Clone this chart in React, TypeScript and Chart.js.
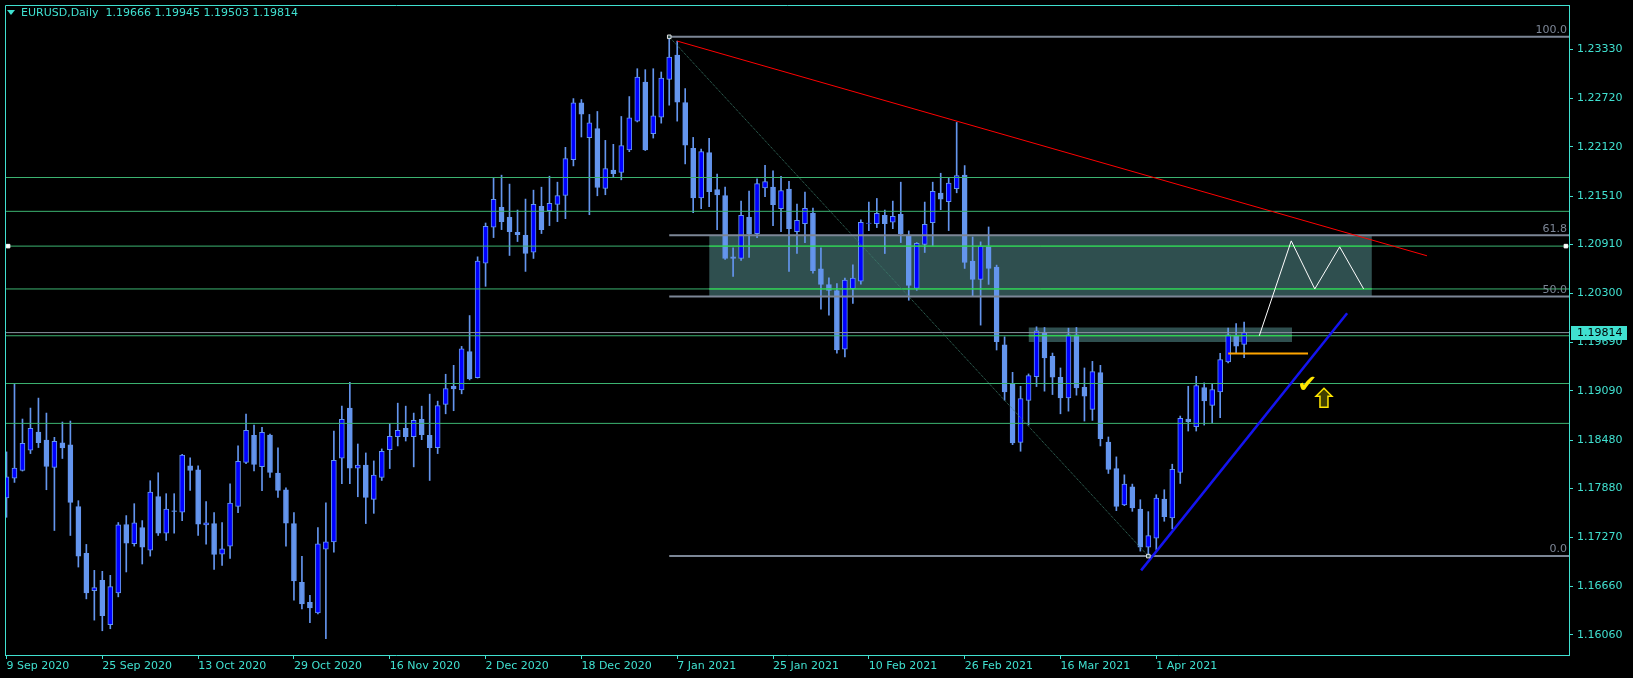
import React, { useEffect, useRef } from 'react';
import { Chart, registerables } from 'chart.js';

Chart.register(...registerables);

// ---- Daily candles, EURUSD (index 0 = 9 Sep 2020) ----
const opens = [
  1.17760, 1.18008, 1.18102, 1.18354, 1.18580, 1.18481, 1.18139, 1.18444, 1.18420, 1.17653,
  1.17072, 1.16611, 1.16739, 1.16187, 1.16582, 1.17431, 1.17192, 1.17394, 1.17114, 1.17777,
  1.17324, 1.17600, 1.17583, 1.18160, 1.18111, 1.17427, 1.17443, 1.17064, 1.17162, 1.17657,
  1.18201, 1.18538, 1.18151, 1.18543, 1.18069, 1.17863, 1.17443, 1.16713, 1.16466, 1.16334,
  1.17125, 1.17216, 1.18254, 1.18876, 1.18131, 1.18168, 1.17743, 1.18015, 1.18361, 1.18522,
  1.18625, 1.18522, 1.18736, 1.18539, 1.18386, 1.18922, 1.19148, 1.19103, 1.19577, 1.19256,
  1.20677, 1.21122, 1.21369, 1.21246, 1.21060, 1.21023, 1.20813, 1.21381, 1.21328, 1.21406,
  1.21517, 1.21962, 1.22667, 1.22234, 1.22346, 1.21604, 1.21831, 1.21802, 1.22082, 1.22440,
  1.22926, 1.22284, 1.22490, 1.22959, 1.23260, 1.22671, 1.22102, 1.21488, 1.22049, 1.21591,
  1.21517, 1.20755, 1.20734, 1.21245, 1.21043, 1.21612, 1.21620, 1.21352, 1.21596, 1.21068,
  1.21167, 1.21299, 1.20607, 1.20409, 1.20335, 1.19610, 1.20360, 1.20454, 1.21171, 1.21167,
  1.21270, 1.21184, 1.21283, 1.21015, 1.20364, 1.20908, 1.21180, 1.21546, 1.21439, 1.21600,
  1.21769, 1.20702, 1.20475, 1.20879, 1.20628, 1.19663, 1.19173, 1.18452, 1.18971, 1.19268,
  1.19808, 1.19519, 1.19260, 1.19004, 1.19787, 1.19136, 1.18860, 1.19317, 1.18456, 1.18127,
  1.17673, 1.17900, 1.17624, 1.17150, 1.17261, 1.17748, 1.17513, 1.18077, 1.18741, 1.18646,
  1.19132, 1.18909, 1.19078, 1.19449, 1.19775, 1.19666,
];
const highs = [
  1.18333, 1.19178, 1.18741, 1.18877, 1.19001, 1.18815, 1.18514, 1.18704, 1.18716, 1.17727,
  1.17184, 1.16862, 1.16850, 1.16800, 1.17456, 1.17542, 1.17690, 1.17480, 1.17975, 1.18074,
  1.17814, 1.17814, 1.18304, 1.18259, 1.18160, 1.17715, 1.17579, 1.17455, 1.17937, 1.18407,
  1.18802, 1.18666, 1.18637, 1.18555, 1.18382, 1.17888, 1.17579, 1.17035, 1.16553, 1.17393,
  1.17702, 1.18592, 1.18901, 1.19198, 1.18431, 1.18320, 1.18221, 1.18370, 1.18683, 1.18938,
  1.18901, 1.18815, 1.18901, 1.19050, 1.18963, 1.19297, 1.19408, 1.19643, 1.20026, 1.20755,
  1.21175, 1.21740, 1.21769, 1.21658, 1.21336, 1.21472, 1.21583, 1.21620, 1.21756, 1.21682,
  1.22115, 1.22720, 1.22708, 1.22523, 1.22560, 1.22201, 1.22152, 1.22498, 1.22745, 1.23091,
  1.23079, 1.23091, 1.23050, 1.23487, 1.23433, 1.22844, 1.22238, 1.22094, 1.22226, 1.21781,
  1.21620, 1.20866, 1.21447, 1.21571, 1.21723, 1.21892, 1.21822, 1.21756, 1.21694, 1.21410,
  1.21558, 1.21361, 1.20866, 1.20495, 1.20422, 1.20492, 1.20656, 1.21213, 1.21435, 1.21480,
  1.21336, 1.21447, 1.21682, 1.21077, 1.20932, 1.21435, 1.21682, 1.21793, 1.21732, 1.22424,
  1.21888, 1.21002, 1.20941, 1.21126, 1.20652, 1.19762, 1.19321, 1.19148, 1.19301, 1.19886,
  1.19878, 1.19560, 1.19375, 1.19869, 1.19878, 1.19375, 1.19457, 1.19408, 1.18518, 1.18271,
  1.18048, 1.17933, 1.17739, 1.17591, 1.17801, 1.17863, 1.18180, 1.18778, 1.19148, 1.19272,
  1.19190, 1.19177, 1.19556, 1.19869, 1.19927, 1.19945,
];
const lows = [
  1.17521, 1.17954, 1.18095, 1.18312, 1.18387, 1.17863, 1.17357, 1.18251, 1.17295, 1.16903,
  1.16508, 1.16244, 1.16112, 1.16137, 1.16533, 1.16842, 1.17163, 1.16941, 1.17039, 1.17295,
  1.17233, 1.17324, 1.17480, 1.17855, 1.17295, 1.17188, 1.16874, 1.16923, 1.17010, 1.17579,
  1.18188, 1.18098, 1.17850, 1.18015, 1.17768, 1.17162, 1.16491, 1.16384, 1.16211, 1.16322,
  1.16013, 1.17088, 1.17937, 1.17937, 1.17776, 1.17443, 1.17570, 1.17978, 1.18126, 1.18407,
  1.18468, 1.18147, 1.18485, 1.17978, 1.18312, 1.18806, 1.18844, 1.19054, 1.19227, 1.19250,
  1.20389, 1.20994, 1.21093, 1.20772, 1.20945, 1.20574, 1.20735, 1.21044, 1.21143, 1.21192,
  1.21229, 1.21884, 1.22243, 1.21278, 1.21513, 1.21526, 1.21740, 1.21711, 1.22061, 1.22430,
  1.22075, 1.22230, 1.22415, 1.22638, 1.22440, 1.21909, 1.21303, 1.21352, 1.21377, 1.21093,
  1.20722, 1.20512, 1.20710, 1.20747, 1.20994, 1.21501, 1.21142, 1.21068, 1.20574, 1.20796,
  1.20932, 1.20553, 1.20104, 1.20030, 1.19560, 1.19511, 1.20178, 1.20417, 1.21081, 1.21118,
  1.20796, 1.21105, 1.20932, 1.20216, 1.20339, 1.20809, 1.20891, 1.21340, 1.21081, 1.21550,
  1.20611, 1.20273, 1.19907, 1.20413, 1.19598, 1.18975, 1.18423, 1.18341, 1.18666, 1.19144,
  1.19087, 1.19045, 1.18806, 1.18839, 1.19037, 1.18716, 1.18724, 1.18407, 1.18065, 1.17603,
  1.17665, 1.17595, 1.17101, 1.17039, 1.17117, 1.17472, 1.17377, 1.17941, 1.18592, 1.18592,
  1.18666, 1.18691, 1.18757, 1.19437, 1.19560, 1.19503,
];
const closes = [
  1.18024, 1.18131, 1.18440, 1.18626, 1.18448, 1.18152, 1.18465, 1.18383, 1.17707, 1.17039,
  1.16582, 1.16648, 1.16298, 1.16660, 1.17427, 1.17200, 1.17451, 1.17151, 1.17835, 1.17324,
  1.17624, 1.17595, 1.18292, 1.18102, 1.17435, 1.17451, 1.17059, 1.17129, 1.17698, 1.18217,
  1.18600, 1.18176, 1.18576, 1.18077, 1.17855, 1.17447, 1.16730, 1.16446, 1.16396, 1.17191,
  1.17216, 1.18229, 1.18736, 1.18131, 1.18168, 1.17768, 1.18044, 1.18341, 1.18526, 1.18600,
  1.18522, 1.18724, 1.18547, 1.18386, 1.18909, 1.19120, 1.19115, 1.19614, 1.19239, 1.20702,
  1.21134, 1.21468, 1.21192, 1.21068, 1.21031, 1.20796, 1.21406, 1.21093, 1.21419, 1.21517,
  1.21975, 1.22667, 1.22527, 1.22420, 1.21616, 1.21851, 1.21789, 1.22135, 1.22481, 1.22988,
  1.22082, 1.22506, 1.22976, 1.23235, 1.22675, 1.22143, 1.21488, 1.22061, 1.21563, 1.21525,
  1.20734, 1.20734, 1.21270, 1.21035, 1.21666, 1.21690, 1.21402, 1.21579, 1.21105, 1.21208,
  1.21357, 1.20582, 1.20413, 1.20339, 1.19598, 1.20467, 1.20492, 1.21184, 1.21175, 1.21295,
  1.21167, 1.21258, 1.21040, 1.20401, 1.20924, 1.21159, 1.21567, 1.21472, 1.21670, 1.21765,
  1.20685, 1.20475, 1.20887, 1.20611, 1.19701, 1.19078, 1.18444, 1.18996, 1.19280, 1.19836,
  1.19499, 1.19260, 1.19004, 1.19787, 1.19128, 1.19025, 1.19330, 1.18497, 1.18114, 1.17657,
  1.17933, 1.17636, 1.17150, 1.17294, 1.17760, 1.17529, 1.18118, 1.18749, 1.18708, 1.19157,
  1.18967, 1.19107, 1.19478, 1.19787, 1.19647, 1.19814,
];

// ---- axes ----
const dateTickIndex = [0, 12, 24, 36, 48, 60, 72, 84, 96, 108, 120, 132, 144];
const dateTickLabels = [
  '9 Sep 2020', '25 Sep 2020', '13 Oct 2020', '29 Oct 2020', '16 Nov 2020', '2 Dec 2020',
  '18 Dec 2020', '7 Jan 2021', '25 Jan 2021', '10 Feb 2021', '26 Feb 2021', '16 Mar 2021', '1 Apr 2021',
];
const priceTicks = [
  1.23330, 1.22720, 1.22120, 1.21510, 1.20910, 1.20300, 1.19690,
  1.19090, 1.18480, 1.17880, 1.17270, 1.16660, 1.16060,
];
const xRange = [-0.1875, 195.6875];
const yRange = [1.15811, 1.23882];

// ---- drawn objects ----
const levelLines = [1.21740, 1.21320, 1.20888, 1.20356, 1.19775, 1.19182, 1.18687];
const selectedLevel = 1.20888;
const fibLevels = [1.23487, 1.21024, 1.20263, 1.17039];
const fibLabels = ['100.0', '61.8', '50.0', '0.0'];
const fibAnchorX = [83, 143];
const zoneBigX = [88, 171];
const zoneBigY = [1.21024, 1.20263];
const zoneBigLevels = [1.20888, 1.20356];
const zoneSmallX = [128, 161];
const zoneSmallY = [1.19878, 1.19696];
const zoneSmallLevels = [1.19775];
const redLineX = [84, 177.9];
const redLineY = [1.23434, 1.20768];
const blueLineX = [142.1, 167.9];
const blueLineY = [1.16862, 1.20054];
const pathX = [156.9, 160.9, 163.85, 166.97, 169.97];
const pathY = [1.19775, 1.20953, 1.20356, 1.20879, 1.20356];
const orangeX = [153, 163];
const orangeY = [1.19556, 1.19556];
const checkMark = [162.9, 1.19148];
const arrowMark = [165, 1.19006];

const TURQ = '#40E0D0';
const BULL = '#0000FF';
const BEAR = '#6495ED';
const GREEN = '#3CB371';
const LIME = '#2CE64A';
const FIB = '#7C8696';
const FONT = '"DejaVu Sans", sans-serif';

const seg = (xs: number[], ys: number[]) => xs.map((x, i) => ({ x, y: ys[i] }));

const overlayPlugin = {
  id: 'mtOverlay',
  afterDraw(chart: any) {
    const { ctx, chartArea, scales } = chart;
    const xs = scales.x;
    const ys = scales.y;
    ctx.save();
    // frame (left & top)
    ctx.strokeStyle = TURQ;
    ctx.lineWidth = 1;
    ctx.beginPath();
    ctx.moveTo(chartArea.left + 0.5, chartArea.bottom);
    ctx.lineTo(chartArea.left + 0.5, chartArea.top + 0.5);
    ctx.lineTo(chartArea.right, chartArea.top + 0.5);
    ctx.stroke();

    // header
    const n = closes.length - 1;
    ctx.fillStyle = TURQ;
    ctx.beginPath();
    ctx.moveTo(7, 10);
    ctx.lineTo(15, 10);
    ctx.lineTo(11, 15);
    ctx.closePath();
    ctx.fill();
    ctx.font = `11px ${FONT}`;
    ctx.textBaseline = 'middle';
    ctx.textAlign = 'left';
    const hdr = `EURUSD,Daily  ${opens[n].toFixed(5)} ${highs[n].toFixed(5)} ${lows[n].toFixed(5)} ${closes[n].toFixed(5)}`;
    ctx.fillText(hdr, 21, 13);

    // fib labels
    ctx.fillStyle = FIB;
    ctx.textAlign = 'right';
    ctx.textBaseline = 'bottom';
    fibLevels.forEach((lv, i) => {
      ctx.fillText(fibLabels[i], chartArea.right - 2, ys.getPixelForValue(lv) - 1);
    });

    // check mark
    const cx = xs.getPixelForValue(checkMark[0]);
    const cy = ys.getPixelForValue(checkMark[1]);
    ctx.fillStyle = '#FFE600';
    ctx.textAlign = 'center';
    ctx.textBaseline = 'middle';
    ctx.font = `bold 24px ${FONT}`;
    ctx.fillText('\u2714', cx, cy);

    // hollow up arrow
    const ax = xs.getPixelForValue(arrowMark[0]);
    const ay = ys.getPixelForValue(arrowMark[1]);
    ctx.beginPath();
    ctx.moveTo(ax, ay - 9.5);
    ctx.lineTo(ax + 8, ay - 1.5);
    ctx.lineTo(ax + 4, ay - 1.5);
    ctx.lineTo(ax + 4, ay + 9.5);
    ctx.lineTo(ax - 4, ay + 9.5);
    ctx.lineTo(ax - 4, ay - 1.5);
    ctx.lineTo(ax - 8, ay - 1.5);
    ctx.closePath();
    ctx.fillStyle = '#3F3F00';
    ctx.fill();
    ctx.strokeStyle = '#FFE600';
    ctx.lineWidth = 1.5;
    ctx.stroke();

    // current price box
    const py = ys.getPixelForValue(closes[n]);
    ctx.fillStyle = TURQ;
    ctx.fillRect(chartArea.right + 2, Math.round(py) - 7, 56, 14);
    ctx.fillStyle = '#000';
    ctx.font = `11px ${FONT}`;
    ctx.textAlign = 'left';
    ctx.textBaseline = 'middle';
    ctx.fillText(closes[n].toFixed(5), chartArea.right + 8, Math.round(py) + 0.5);
    ctx.restore();
  },
};

export default function App() {
  const ref = useRef<HTMLCanvasElement>(null);
  useEffect(() => {
    document.body.style.margin = '0';
    document.body.style.background = '#000';
    const idx = opens.map((_, i) => i);
    const datasets: any[] = [];

    // zones
    datasets.push({
      type: 'line', data: seg(zoneBigX, [zoneBigY[0], zoneBigY[0]]),
      fill: { value: zoneBigY[1] }, backgroundColor: '#2F4F4F', borderWidth: 0, pointRadius: 0, order: 20,
    });
    datasets.push({
      type: 'line', data: seg(zoneSmallX, [zoneSmallY[0], zoneSmallY[0]]),
      fill: { value: zoneSmallY[1] }, backgroundColor: '#2F4F4F', borderWidth: 0, pointRadius: 0, order: 20,
    });
    // wicks & bodies
    datasets.push({
      type: 'bar', data: idx.map((i) => ({ x: i, y: [lows[i], highs[i]] })),
      backgroundColor: BEAR, borderWidth: 0, barThickness: 1, grouped: false, order: 18,
    });
    datasets.push({
      type: 'bar', data: idx.map((i) => ({ x: i, y: [opens[i], closes[i]] })),
      backgroundColor: idx.map((i) => (closes[i] >= opens[i] ? BULL : BEAR)),
      borderColor: BEAR, borderWidth: 1, borderSkipped: false, barThickness: 5, grouped: false, order: 17,
    });
    // horizontal levels
    levelLines.forEach((lv) => {
      datasets.push({
        type: 'line', data: seg(xRange, [lv, lv]), borderColor: GREEN, borderWidth: 1, pointRadius: 0, order: 15,
      });
    });
    zoneBigLevels.forEach((lv) => {
      datasets.push({
        type: 'line', data: seg(zoneBigX, [lv, lv]), borderColor: LIME, borderWidth: 1, pointRadius: 0, order: 14,
      });
    });
    zoneSmallLevels.forEach((lv) => {
      datasets.push({
        type: 'line', data: seg(zoneSmallX, [lv, lv]), borderColor: LIME, borderWidth: 1, pointRadius: 0, order: 14,
      });
    });
    // bid line
    const last = closes[closes.length - 1];
    datasets.push({
      type: 'line', data: seg(xRange, [last, last]), borderColor: '#8A93A0', borderWidth: 1, pointRadius: 0, order: 13,
    });
    // fibonacci
    fibLevels.forEach((lv) => {
      datasets.push({
        type: 'line', data: seg([fibAnchorX[0], xRange[1]], [lv, lv]), borderColor: FIB, borderWidth: 2, pointRadius: 0, order: 12,
      });
    });
    datasets.push({
      type: 'line', data: seg(fibAnchorX, [fibLevels[0], fibLevels[3]]), borderColor: '#3C7D6C',
      borderWidth: 1, borderDash: [1, 1], pointRadius: 0, order: 12,
    });
    // trend lines and path
    datasets.push({ type: 'line', data: seg(redLineX, redLineY), borderColor: '#FF0000', borderWidth: 1, pointRadius: 0, order: 10 });
    datasets.push({ type: 'line', data: seg(blueLineX, blueLineY), borderColor: '#1414F0', borderWidth: 2.5, pointRadius: 0, order: 10 });
    datasets.push({ type: 'line', data: seg(pathX, pathY), borderColor: '#FFFFFF', borderWidth: 1, pointRadius: 0, order: 10, tension: 0 });
    datasets.push({ type: 'line', data: seg(orangeX, orangeY), borderColor: '#FFA500', borderWidth: 2, pointRadius: 0, order: 10 });
    // anchor squares
    datasets.push({
      type: 'line', showLine: false,
      data: [{ x: 0.2, y: selectedLevel }, { x: 195.3, y: selectedLevel }],
      pointStyle: 'rect', pointRadius: 2.5, pointBackgroundColor: '#FFFFFF', pointBorderColor: '#FFFFFF', order: 5,
    });
    datasets.push({
      type: 'line', showLine: false,
      data: [{ x: fibAnchorX[0], y: fibLevels[0] }, { x: fibAnchorX[1], y: fibLevels[3] }],
      pointStyle: 'rect', pointRadius: 2.5, pointBackgroundColor: '#2F4F4F', pointBorderColor: '#E0E0E0', pointBorderWidth: 1, order: 5,
    });

    const chart = new Chart(ref.current as HTMLCanvasElement, {
      type: 'bar',
      data: { datasets },
      options: {
        responsive: false,
        animation: false,
        devicePixelRatio: 1,
        events: [],
        layout: { padding: { left: 2, top: 2, right: 0, bottom: 0 } },
        plugins: { legend: { display: false }, tooltip: { enabled: false }, title: { display: false } },
        scales: {
          x: {
            type: 'linear', min: xRange[0], max: xRange[1], offset: false, position: 'bottom',
            grid: { display: true, drawOnChartArea: false, drawTicks: true, tickLength: 4, color: TURQ, offset: false },
            border: { display: true, color: TURQ, width: 1 },
            ticks: {
              color: TURQ, font: { family: FONT, size: 11 }, align: 'start', maxRotation: 0, minRotation: 0,
              autoSkip: false, padding: 1,
              callback: (v: any) => {
                const k = dateTickIndex.indexOf(Number(v));
                return k >= 0 ? dateTickLabels[k] : '';
              },
            },
            afterBuildTicks: (s: any) => { s.ticks = dateTickIndex.map((v) => ({ value: v })); },
            afterFit: (s: any) => { s.height = 23; s.paddingLeft = 0; s.paddingRight = 0; },
          },
          y: {
            type: 'linear', position: 'right', min: yRange[0], max: yRange[1],
            grid: { display: true, drawOnChartArea: false, drawTicks: true, tickLength: 4, color: TURQ },
            border: { display: true, color: TURQ, width: 1 },
            ticks: {
              color: TURQ, font: { family: FONT, size: 11 }, padding: 4, autoSkip: false,
              callback: (v: any) => Number(v).toFixed(5),
            },
            afterBuildTicks: (s: any) => { s.ticks = priceTicks.map((v) => ({ value: v })); },
            afterFit: (s: any) => { s.width = 64; s.paddingTop = 0; s.paddingBottom = 0; },
          },
        },
      } as any,
      plugins: [overlayPlugin],
    } as any);
    return () => chart.destroy();
  }, []);

  return (
    <div style={{ width: 1633, height: 678, background: '#000' }}>
      <canvas ref={ref} width={1633} height={678} style={{ display: 'block' }} />
    </div>
  );
}
